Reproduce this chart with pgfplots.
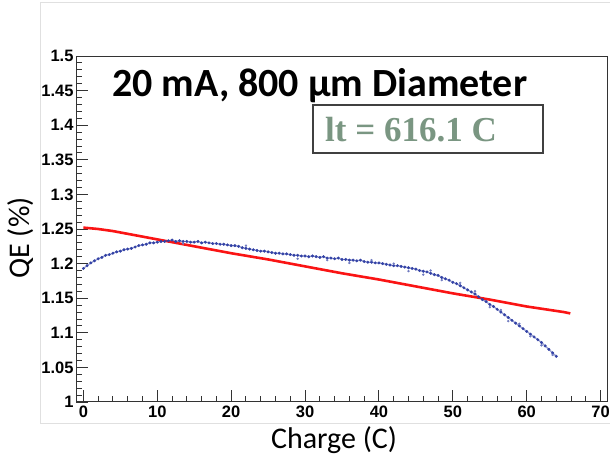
\documentclass[border=0pt]{standalone}
\usepackage{pgfplots}
\pgfplotsset{compat=1.18}
\usepackage{fontspec}
\setmainfont{Liberation Sans}
\newfontfamily\carlito{Carlito}
\newfontfamily\timesf{Liberation Serif}
\definecolor{qeblue}{RGB}{50,65,165}
\definecolor{ltgreen}{RGB}{122,150,130}
\definecolor{fitred}{RGB}{250,20,20}
\begin{document}
\begin{tikzpicture}[x=1pt,y=1pt]
\useasboundingbox (0,0) rectangle (610,455);
\draw[black!12, line width=1] (40,32) -- (40,452) -- (612,452);
\draw[black!12, line width=1] (40,32) -- (612,32);
\begin{axis}[
  at={(76pt,53pt)}, anchor=south west,
  scale only axis, width=532pt, height=346pt,
  xmin=-1, xmax=71, ymin=1, ymax=1.5,
  xtick={0,10,20,30,40,50,60,70},
  ytick={1,1.05,1.1,1.15,1.2,1.25,1.3,1.35,1.4,1.45,1.5},
  yticklabels={1,1.05,1.1,1.15,1.2,1.25,1.3,1.35,1.4,1.45,1.5},
  minor x tick num=4, minor y tick num=4,
  tick pos=left, tick align=inside,
  major tick length=12pt, minor tick length=6pt,
  tick style={black!80, line width=0.9pt},
  axis line style={black!80, line width=1pt},
  /pgf/number format/assume math mode=true,
  ticklabel style={font=\bfseries\fontsize{16.5}{18}\selectfont},
  yticklabel style={xshift=1pt},
  clip=true,
]
\addplot[fitred, line width=2.6pt] coordinates {
(0,1.252) (2,1.250) (4,1.247) (6,1.243) (8,1.239) (10,1.235) (12,1.231) (15,1.225)
(20,1.215) (25,1.206) (30,1.196) (35,1.186) (40,1.177) (45,1.167) (50,1.157)
(55,1.148) (60,1.138) (65,1.130) (65.9,1.128)
};
\addplot[qeblue, line width=1.3pt, opacity=0.5] coordinates {
(0,1.193) (0.5,1.197) (1,1.201) (1.5,1.204) (2,1.207) (2.5,1.209) (3,1.212) (3.5,1.213)
(4,1.215) (4.5,1.217) (5,1.218) (5.5,1.220) (6,1.221) (6.5,1.222) (7,1.224) (7.5,1.226)
(8,1.227) (8.5,1.228) (9,1.230) (9.5,1.230) (10,1.231) (10.5,1.232) (11,1.232) (11.5,1.233)
(12,1.234) (12.5,1.232) (13,1.233) (13.5,1.232) (14,1.232) (14.5,1.231) (15,1.231) (15.5,1.232)
(16,1.230) (16.5,1.231) (17,1.230) (17.5,1.229) (18,1.229) (18.5,1.228) (19,1.228) (19.5,1.227)
(20,1.226) (20.5,1.226) (21,1.225) (21.5,1.223) (22,1.222) (22.5,1.221) (23,1.220) (23.5,1.219)
(24,1.218) (24.5,1.218) (25,1.217) (25.5,1.216) (26,1.215) (26.5,1.215) (27,1.214) (27.5,1.214)
(28,1.213) (28.5,1.212) (29,1.212) (29.5,1.211) (30,1.211) (30.5,1.210) (31,1.211) (31.5,1.210)
(32,1.209) (32.5,1.210) (33,1.208) (33.5,1.208) (34,1.207) (34.5,1.208) (35,1.206) (35.5,1.206)
(36,1.205) (36.5,1.205) (37,1.204) (37.5,1.205) (38,1.203) (38.5,1.202) (39,1.202) (39.5,1.201)
(40,1.201) (40.5,1.200) (41,1.199) (41.5,1.198) (42,1.197) (42.5,1.197) (43,1.196) (43.5,1.195)
(44,1.194) (44.5,1.193) (45,1.192) (45.5,1.190) (46,1.189) (46.5,1.188) (47,1.186) (47.5,1.184)
(48,1.183) (48.5,1.180) (49,1.178) (49.5,1.176) (50,1.173) (50.5,1.171) (51,1.168) (51.5,1.165)
(52,1.162) (52.5,1.159) (53,1.156) (53.5,1.152) (54,1.148) (54.5,1.145) (55,1.141) (55.5,1.138)
(56,1.134) (56.5,1.130) (57,1.126) (57.5,1.122) (58,1.118) (58.5,1.114) (59,1.110) (59.5,1.106)
(60,1.102) (60.5,1.098) (61,1.094) (61.5,1.090) (62,1.086) (62.5,1.081) (63,1.076) (63.5,1.071)
(64,1.066)
};
\addplot[qeblue, only marks, mark=*, mark size=1.3pt] coordinates {
(0,1.193) (0.5,1.197) (1,1.201) (1.5,1.204) (2,1.207) (2.5,1.209) (3,1.212) (3.5,1.213)
(4,1.215) (4.5,1.217) (5,1.218) (5.5,1.220) (6,1.221) (6.5,1.222) (7,1.224) (7.5,1.226)
(8,1.227) (8.5,1.228) (9,1.230) (9.5,1.230) (10,1.231) (10.5,1.232) (11,1.232) (11.5,1.233)
(12,1.234) (12.5,1.232) (13,1.233) (13.5,1.232) (14,1.232) (14.5,1.231) (15,1.231) (15.5,1.232)
(16,1.230) (16.5,1.231) (17,1.230) (17.5,1.229) (18,1.229) (18.5,1.228) (19,1.228) (19.5,1.227)
(20,1.226) (20.5,1.226) (21,1.225) (21.5,1.223) (22,1.222) (22.5,1.221) (23,1.220) (23.5,1.219)
(24,1.218) (24.5,1.218) (25,1.217) (25.5,1.216) (26,1.215) (26.5,1.215) (27,1.214) (27.5,1.214)
(28,1.213) (28.5,1.212) (29,1.212) (29.5,1.211) (30,1.211) (30.5,1.210) (31,1.211) (31.5,1.210)
(32,1.209) (32.5,1.210) (33,1.208) (33.5,1.208) (34,1.207) (34.5,1.208) (35,1.206) (35.5,1.206)
(36,1.205) (36.5,1.205) (37,1.204) (37.5,1.205) (38,1.203) (38.5,1.202) (39,1.202) (39.5,1.201)
(40,1.201) (40.5,1.200) (41,1.199) (41.5,1.198) (42,1.197) (42.5,1.197) (43,1.196) (43.5,1.195)
(44,1.194) (44.5,1.193) (45,1.192) (45.5,1.190) (46,1.189) (46.5,1.188) (47,1.186) (47.5,1.184)
(48,1.183) (48.5,1.180) (49,1.178) (49.5,1.176) (50,1.173) (50.5,1.171) (51,1.168) (51.5,1.165)
(52,1.162) (52.5,1.159) (53,1.156) (53.5,1.152) (54,1.148) (54.5,1.145) (55,1.141) (55.5,1.138)
(56,1.134) (56.5,1.130) (57,1.126) (57.5,1.122) (58,1.118) (58.5,1.114) (59,1.110) (59.5,1.106)
(60,1.102) (60.5,1.098) (61,1.094) (61.5,1.090) (62,1.086) (62.5,1.081) (63,1.076) (63.5,1.071)
(64,1.066)
};
\addplot[qeblue!70, only marks, mark=*, mark size=1pt] coordinates {
(13.5,1.229) (29,1.207) (36,1.201) (42,1.200) (44,1.189) (46,1.184) (47,1.190) (48.5,1.176)
(51,1.172) (53,1.160) (55,1.137) (56.5,1.133) (57.5,1.117) (59,1.113) (60.5,1.095)
(62,1.082) (63.5,1.068) (22,1.226) (33,1.205) (39,1.205)
};
\end{axis}
\node[anchor=base, rotate=90, font=\carlito\fontsize{30}{32}\selectfont] at (29,217) {QE (\%)};
\node[anchor=base, font=\carlito\fontsize{30}{32}\selectfont] at (334,7) {Charge (C)};
\draw[black!75, line width=1.2pt, fill=white] (313,302) rectangle (543,350);
\node[anchor=base west, inner sep=0pt, text=ltgreen, font=\timesf\bfseries\fontsize{35}{38}\selectfont] at (325,313) {lt = 616.1 C};
\node[anchor=base west, inner sep=0pt, font=\carlito\bfseries\fontsize{40}{44}\selectfont] at (112,358) {20 mA, 800 µm Diameter};
\end{tikzpicture}
\end{document}
